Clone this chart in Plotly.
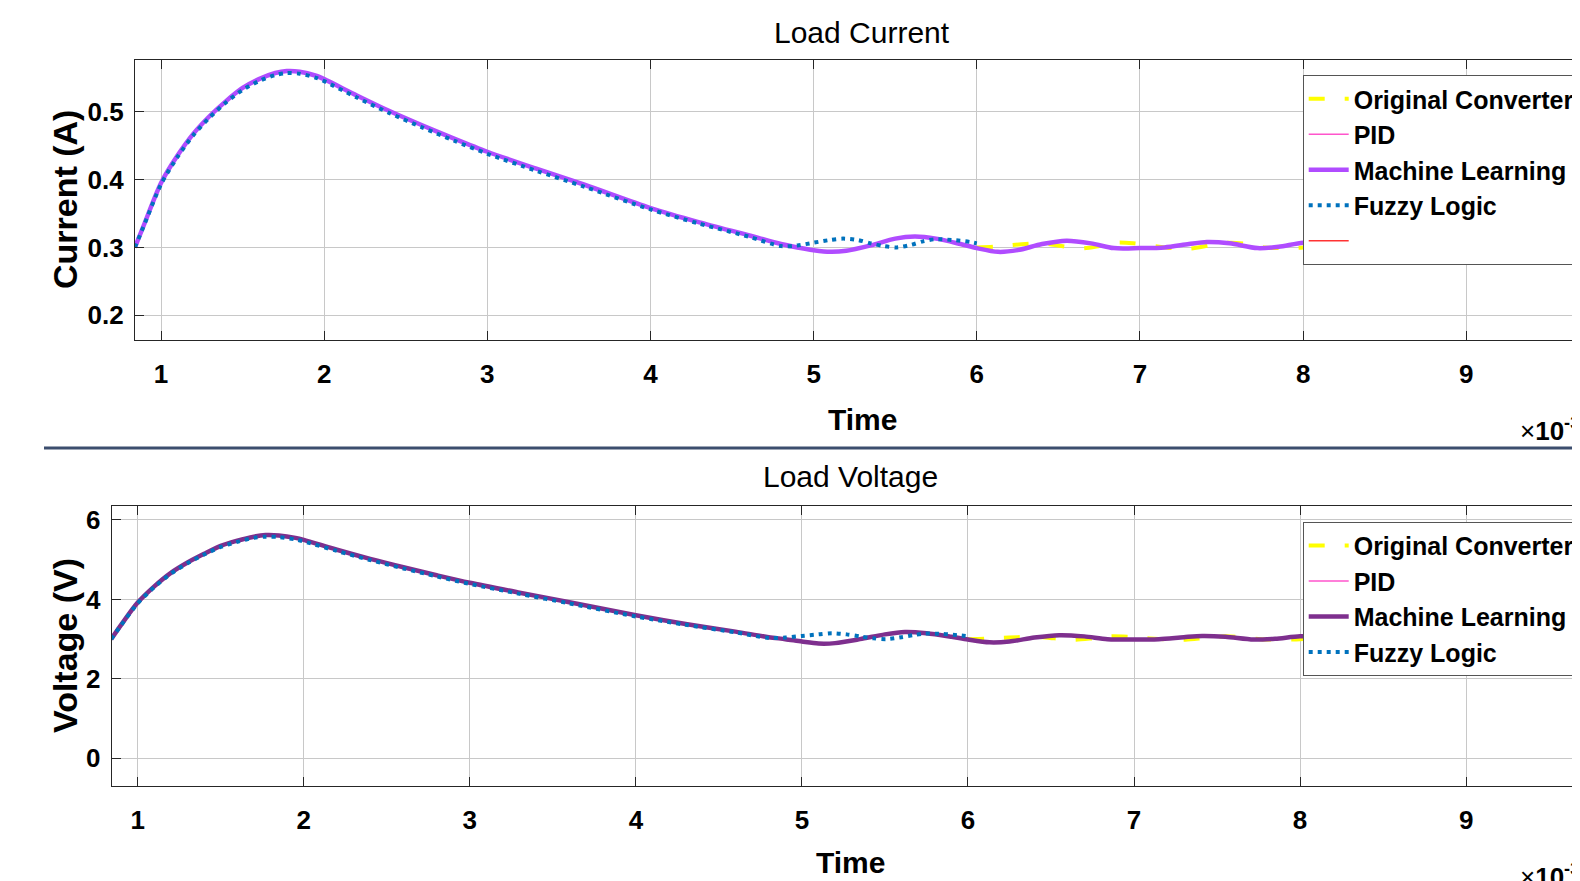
import plotly.graph_objects as go

# ---------------- data ----------------
time_ml = [0.84, 0.9, 1.0, 1.1, 1.2, 1.3, 1.4, 1.5, 1.6, 1.7,
           1.77, 1.85, 1.95, 2.0, 2.2, 2.4, 2.6, 2.8, 3.0, 3.3,
           3.6, 4.0, 4.3, 4.6, 4.8, 4.9, 5.0, 5.1, 5.2, 5.35,
           5.5, 5.62, 5.75, 5.9, 6.0, 6.13, 6.25, 6.4, 6.55, 6.7,
           6.84, 7.0, 7.15, 7.3, 7.41, 7.55, 7.72, 7.85, 8.0, 8.15,
           8.3, 8.45, 8.6, 8.75, 8.9, 9.05, 9.2, 9.35, 9.5, 9.75]
current_ml = [0.300, 0.336, 0.395, 0.435, 0.468, 0.494, 0.516, 0.535, 0.548, 0.557,
              0.560, 0.559, 0.553, 0.548, 0.524, 0.501, 0.480, 0.460, 0.441, 0.416,
              0.392, 0.358, 0.337, 0.318, 0.305, 0.300, 0.296, 0.2935, 0.295, 0.303,
              0.313, 0.316, 0.313, 0.305, 0.299, 0.2935, 0.296, 0.305, 0.310, 0.306,
              0.299, 0.299, 0.300, 0.305, 0.308, 0.306, 0.299, 0.301, 0.307, 0.306,
              0.300, 0.301, 0.306, 0.305, 0.300, 0.301, 0.305, 0.304, 0.300, 0.304]
current_pid = [0.300, 0.336, 0.395, 0.435, 0.468, 0.494, 0.516, 0.535, 0.548, 0.557,
               0.560, 0.559, 0.553, 0.548, 0.524, 0.501, 0.480, 0.460, 0.441, 0.416,
               0.392, 0.358, 0.337, 0.318, 0.305, 0.300, 0.296, 0.2935, 0.295, 0.303,
               0.313, 0.316, 0.313, 0.305, 0.299, 0.2935, 0.296, 0.305, 0.310, 0.306,
               0.299, 0.299, 0.300, 0.305, 0.308, 0.306, 0.299, 0.301, 0.307, 0.306,
               0.300, 0.301, 0.306, 0.305, 0.300, 0.301, 0.305, 0.304, 0.300, 0.304]

time_fuzzy = [0.84, 0.9, 1.0, 1.1, 1.2, 1.3, 1.4, 1.5, 1.6, 1.7,
              1.77, 1.85, 1.95, 2.0, 2.2, 2.4, 2.6, 2.8, 3.0, 3.3,
              3.6, 4.0, 4.3, 4.6, 4.8, 4.9, 5.0, 5.1, 5.18, 5.27,
              5.35, 5.43, 5.51, 5.6, 5.67, 5.74, 5.85, 5.96, 6.0]
current_fuzzy = [0.300, 0.335, 0.393, 0.433, 0.466, 0.492, 0.514, 0.532, 0.545, 0.554,
                 0.557, 0.556, 0.550, 0.545, 0.521, 0.498, 0.477, 0.457, 0.438, 0.413,
                 0.389, 0.356, 0.335, 0.316, 0.302, 0.303, 0.307, 0.311, 0.313, 0.311,
                 0.306, 0.302, 0.300, 0.304, 0.309, 0.312, 0.311, 0.308, 0.306]

time_orig = [6.0, 6.1, 6.19, 6.3, 6.41, 6.52, 6.64, 6.75, 6.86, 6.96,
             7.06, 7.2, 7.31, 7.43, 7.55, 7.66, 7.76, 7.88, 8.0, 8.15,
             8.3, 8.45, 8.6, 8.75, 8.9, 9.05, 9.2, 9.35, 9.5, 9.75]
current_orig = [0.300, 0.301, 0.303, 0.305, 0.306, 0.302, 0.2985, 0.302, 0.307, 0.306,
                0.303, 0.299, 0.2985, 0.303, 0.307, 0.305, 0.300, 0.299, 0.300, 0.304,
                0.306, 0.302, 0.300, 0.304, 0.305, 0.301, 0.300, 0.304, 0.304, 0.301]

voltage_ml = [3.00, 3.36, 3.92, 4.33, 4.67, 4.93, 5.15, 5.35, 5.48, 5.58,
              5.62, 5.61, 5.55, 5.50, 5.25, 5.02, 4.81, 4.61, 4.42, 4.17,
              3.93, 3.60, 3.38, 3.19, 3.05, 3.00, 2.94, 2.89, 2.90, 3.00,
              3.12, 3.18, 3.15, 3.06, 2.99, 2.92, 2.94, 3.04, 3.10, 3.07,
              3.00, 2.99, 3.00, 3.05, 3.08, 3.06, 2.99, 3.01, 3.07, 3.06,
              3.00, 3.01, 3.06, 3.05, 3.00, 3.01, 3.05, 3.04, 3.00, 3.04]
voltage_pid = [3.00, 3.36, 3.92, 4.33, 4.67, 4.93, 5.15, 5.35, 5.48, 5.58,
               5.62, 5.61, 5.55, 5.50, 5.25, 5.02, 4.81, 4.61, 4.42, 4.17,
               3.93, 3.60, 3.38, 3.19, 3.05, 3.00, 2.94, 2.89, 2.90, 3.00,
               3.12, 3.18, 3.15, 3.06, 2.99, 2.92, 2.94, 3.04, 3.10, 3.07,
               3.00, 2.99, 3.00, 3.05, 3.08, 3.06, 2.99, 3.01, 3.07, 3.06,
               3.00, 3.01, 3.06, 3.05, 3.00, 3.01, 3.05, 3.04, 3.00, 3.04]
voltage_fuzzy = [3.00, 3.35, 3.90, 4.31, 4.65, 4.91, 5.13, 5.32, 5.45, 5.55,
                 5.58, 5.57, 5.51, 5.46, 5.22, 4.99, 4.78, 4.58, 4.39, 4.14,
                 3.90, 3.57, 3.36, 3.17, 3.03, 3.04, 3.08, 3.12, 3.15, 3.12,
                 3.07, 3.02, 3.00, 3.05, 3.10, 3.14, 3.13, 3.09, 3.07]
voltage_orig = [3.00, 3.01, 3.03, 3.05, 3.06, 3.02, 2.985, 3.02, 3.07, 3.06,
                3.03, 2.99, 2.985, 3.03, 3.07, 3.05, 3.00, 2.99, 3.00, 3.04,
                3.06, 3.02, 3.00, 3.04, 3.05, 3.01, 3.00, 3.04, 3.04, 3.01]

x_ticks = [1, 2, 3, 4, 5, 6, 7, 8, 9]
current_ticks = [0.2, 0.3, 0.4, 0.5]
voltage_ticks = [0, 2, 4, 6]

# ---------------- layout helpers ----------------
W, H = 1580, 881
OFF = 8  # page body margin offsets the figure inside the window
FONT = "Liberation Sans, Arial, sans-serif"

def px(x):
    return (x - OFF) / W

def py(y):
    return 1 - (y - OFF) / H

fig = go.Figure()

def add_series(xa, ya, legend, ml_color, t_orig, v_orig, t_pid, v_pid, t_ml, v_ml, t_fz, v_fz, with_red):
    common = dict(xaxis=xa, yaxis=ya, legend=legend, mode="lines")
    fig.add_trace(go.Scatter(x=t_orig, y=v_orig, name="Original Converter",
                             line=dict(color="#FFFF00", width=4, dash="16px,20px", shape="spline", smoothing=0.8), **common))
    fig.add_trace(go.Scatter(x=t_pid, y=v_pid, name="PID",
                             line=dict(color="#FF55CC", width=1.6, shape="spline", smoothing=0.8), **common))
    fig.add_trace(go.Scatter(x=t_ml, y=v_ml, name="Machine Learning",
                             line=dict(color=ml_color, width=4.5, shape="spline", smoothing=0.8), **common))
    fig.add_trace(go.Scatter(x=t_fz, y=v_fz, name="Fuzzy Logic",
                             line=dict(color="#0072BD", width=4, dash="4px,5px", shape="spline", smoothing=0.8), **common))
    if with_red:
        fig.add_trace(go.Scatter(x=[None], y=[None], name=" ",
                                 line=dict(color="#FF3333", width=1.6), **common))

add_series("x", "y", "legend", "#B04CFF", time_orig, current_orig, time_ml, current_pid,
           time_ml, current_ml, time_fuzzy, current_fuzzy, True)
add_series("x2", "y2", "legend2", "#7E2F8E", time_orig, voltage_orig, time_ml, voltage_pid,
           time_ml, voltage_ml, time_fuzzy, voltage_fuzzy, False)

tickfont = dict(family=FONT, size=26, color="black", weight="bold")
grid = "#C8C8C8"
axcol = "#262626"

def xaxis(domain, rng, anchor):
    return dict(domain=domain, range=rng, tickvals=x_ticks, ticks="inside", ticklen=9,
                tickcolor=axcol, showline=True, linecolor=axcol, linewidth=1.2, mirror="ticks",
                showgrid=True, gridcolor=grid, gridwidth=1, zeroline=False, tickfont=tickfont,
                ticklabelstandoff=11, anchor=anchor)

def yaxis(domain, rng, ticks, anchor):
    return dict(domain=domain, range=rng, tickvals=ticks, ticks="inside", ticklen=9,
                tickcolor=axcol, showline=True, linecolor=axcol, linewidth=1.2, mirror=False,
                showgrid=True, gridcolor=grid, gridwidth=1, zeroline=False, tickfont=tickfont,
                ticklabelstandoff=5, anchor=anchor)

legfont = dict(family=FONT, size=25, color="black", weight="bold")

# right edge of the figure lies at window x = 1580 + OFF
fig.update_layout(
    width=W, height=H, paper_bgcolor="white", plot_bgcolor="white",
    margin=dict(l=0, r=0, t=0, b=0, autoexpand=False),
    showlegend=True,
    xaxis=xaxis([px(135), 1.0], [0.8405, 9.746], "y"),
    yaxis=yaxis([py(340), py(60)], [0.1636, 0.5762], current_ticks, "x"),
    xaxis2=xaxis([px(111.7), 1.0], [0.8434, 9.734], "y2"),
    yaxis2=yaxis([py(786), py(506)], [-0.697, 6.352], voltage_ticks, "x2"),
    legend=dict(x=px(1302.7), xanchor="left", y=py(75), yanchor="top", bgcolor="white",
                bordercolor="#555555", borderwidth=1, font=legfont, itemwidth=40,
                traceorder="normal", tracegroupgap=0),
    legend2=dict(x=px(1302.7), xanchor="left", y=py(521.7), yanchor="top", bgcolor="white",
                 bordercolor="#555555", borderwidth=1, font=legfont, itemwidth=40,
                 traceorder="normal", tracegroupgap=0),
)

fig.add_shape(type="line", xref="paper", yref="paper", x0=px(44), x1=1.0, y0=py(448), y1=py(448),
              line=dict(color="#3C4E6E", width=3))

def ann(text, x, y, size, bold=False, angle=0, xanchor="center"):
    fig.add_annotation(text=text, x=px(x), y=py(y), xref="paper", yref="paper", showarrow=False,
                       xanchor=xanchor, yanchor="middle", textangle=angle,
                       font=dict(family=FONT, size=size, color="black",
                                 weight="bold" if bold else "normal"))

ann("Load Current", 862, 32, 30)
ann("Load Voltage", 851, 476, 30)
ann("Time", 862, 419, 30, bold=True)
ann("Time", 851, 862, 30, bold=True)
ann("Current (A)", 65, 200, 34, bold=True, angle=-90)
ann("Voltage (V)", 65, 646, 34, bold=True, angle=-90)
ann("×<b>10</b><sup><b>-3</b></sup>", 1518, 429, 26, xanchor="left")
ann("×<b>10</b><sup><b>-3</b></sup>", 1518, 875, 26, xanchor="left")

fig.write_html("out.html")
